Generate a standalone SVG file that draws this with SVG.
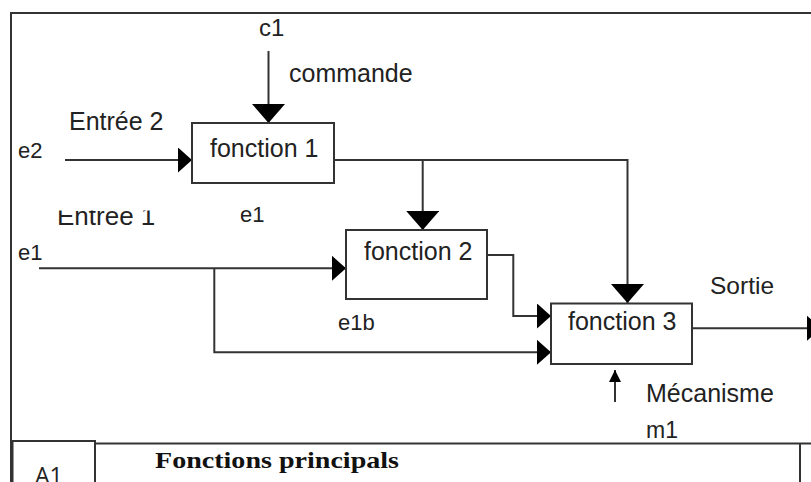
<svg xmlns="http://www.w3.org/2000/svg" width="811" height="482" viewBox="0 0 811 482">
  <style>
    .frame { fill: none; stroke: #333; stroke-width: 2; }
    .box { fill: #fff; stroke: #333; stroke-width: 2; }
    .wire { fill: none; stroke: #333; stroke-width: 2; }
    .lbl { font-family: "Liberation Sans", Arial, sans-serif; fill: #222; }
    .fn { font-size: 25px; }
    .sig { font-size: 22px; }
  </style>
  <defs>
    <!-- right-pointing inputs / outputs -->
    <marker id="headR" viewBox="0 0 14 25" refX="14" refY="12.5" markerWidth="14" markerHeight="25" markerUnits="userSpaceOnUse" orient="auto">
      <path d="M0,0 L14,12.5 L0,25 Z" fill="#000"/>
    </marker>
    <!-- downward controls -->
    <marker id="headD" viewBox="0 0 19 33" refX="19" refY="16.5" markerWidth="19" markerHeight="33" markerUnits="userSpaceOnUse" orient="auto">
      <path d="M0,0 L19,16.5 L0,33 Z" fill="#000"/>
    </marker>
    <!-- small mechanism arrow -->
    <marker id="headS" viewBox="0 0 12 12" refX="12" refY="6" markerWidth="12" markerHeight="12" markerUnits="userSpaceOnUse" orient="auto">
      <path d="M0,0 L12,6 L0,12 Z" fill="#000"/>
    </marker>
    <clipPath id="clipEntree1">
      <rect x="40" y="210.5" width="140" height="30"/>
    </clipPath>
  </defs>

  <!-- outer frame -->
  <g id="frame">
    <path class="frame" d="M11,482 V13 H811"/>
  </g>

  <!-- connectors -->
  <g id="connectors">
    <path class="wire" d="M268.5,51 V123" marker-end="url(#headD)"/>
    <path class="wire" d="M65,160 H192" marker-end="url(#headR)"/>
    <path class="wire" d="M334,160 H627.5 V303" marker-end="url(#headD)"/>
    <path class="wire" d="M422.7,160 V230" marker-end="url(#headD)"/>
    <path class="wire" d="M39,268.3 H346" marker-end="url(#headR)"/>
    <path class="wire" d="M214.3,268.3 V352.3 H551" marker-end="url(#headR)"/>
    <path class="wire" d="M487,255 H513.3 V316 H551" marker-end="url(#headR)"/>
    <path class="wire" d="M692,328.3 H821" marker-end="url(#headR)"/>
    <path class="wire" d="M615,402 V370" marker-end="url(#headS)"/>
  </g>

  <!-- function nodes -->
  <g id="fonction1">
    <rect class="box" x="192" y="123" width="142" height="60"/>
    <text class="lbl fn" x="210" y="157">fonction 1</text>
  </g>
  <g id="fonction2">
    <rect class="box" x="346" y="230" width="141" height="69"/>
    <text class="lbl fn" x="364" y="260">fonction 2</text>
  </g>
  <g id="fonction3">
    <rect class="box" x="551" y="303.5" width="141" height="60.5"/>
    <text class="lbl fn" x="568" y="330">fonction 3</text>
  </g>

  <!-- signal labels -->
  <g id="labels">
    <text class="lbl" font-size="24" x="259" y="36">c1</text>
    <text class="lbl fn" x="289" y="82">commande</text>
    <text class="lbl fn" x="69" y="130">Entrée 2</text>
    <text class="lbl sig" x="18" y="158">e2</text>
    <text class="lbl" font-size="26" x="57" y="225" clip-path="url(#clipEntree1)">Entrée 1</text>
    <text class="lbl sig" x="240" y="222">e1</text>
    <text class="lbl sig" x="18" y="260">e1</text>
    <text class="lbl sig" x="338" y="330">e1b</text>
    <text class="lbl" font-size="24.5" x="710" y="294">Sortie</text>
    <text class="lbl fn" x="646" y="402">Mécanisme</text>
    <text class="lbl" font-size="23" x="646" y="438">m1</text>
  </g>

  <!-- title block -->
  <g id="cartouche">
    <rect class="frame" x="12.5" y="441" width="82.5" height="60"/>
    <path class="frame" d="M95,443.5 H811 M800,443.5 V482"/>
    <text x="35" y="484" font-family="'Open Sans', 'Noto Sans', sans-serif" font-size="23" fill="#222">A1</text>
    <text x="155" y="468" font-family="'Liberation Serif', 'Times New Roman', serif" font-size="23" font-weight="bold" fill="#111" textLength="244" lengthAdjust="spacingAndGlyphs">Fonctions principals</text>
  </g>
</svg>
